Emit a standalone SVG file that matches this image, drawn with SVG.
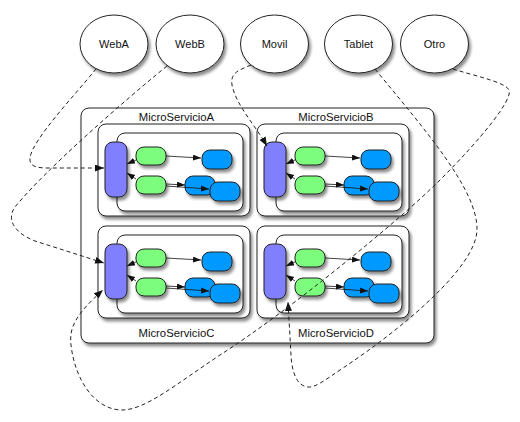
<svg xmlns="http://www.w3.org/2000/svg" width="520" height="422" viewBox="0 0 520 422">
<defs>
<filter id="sh" x="-20%" y="-20%" width="150%" height="150%">
<feDropShadow dx="2" dy="3" stdDeviation="1.6" flood-color="#000" flood-opacity="0.45"/>
</filter>
<marker id="ah" markerUnits="userSpaceOnUse" markerWidth="10" markerHeight="8" refX="9" refY="3.5" orient="auto">
<path d="M0,0 L9,3.5 L0,7 z" fill="#111"/>
</marker>
<marker id="as" markerUnits="userSpaceOnUse" markerWidth="9" markerHeight="7" refX="8" refY="3" orient="auto">
<path d="M0,0 L8,3 L0,6 z" fill="#111"/>
</marker>
</defs>
<style>
.client{fill:#fff;stroke:#222;stroke-width:1;filter:url(#sh)}
.box{fill:#fff;stroke:#222;stroke-width:1;filter:url(#sh)}
.p{fill:#8080ff;stroke:#222;stroke-width:1;filter:url(#sh)}
.g{fill:#7dfd7d;stroke:#222;stroke-width:1;filter:url(#sh)}
.b{fill:#0099ff;stroke:#222;stroke-width:1;filter:url(#sh)}
.t{font-family:"Liberation Sans",Arial,sans-serif;font-size:11px;fill:#111;text-anchor:middle}
.lbl{font-family:"Liberation Sans",Arial,sans-serif;font-size:11.3px;fill:#111;text-anchor:middle}
.ia{fill:none;stroke:#111;stroke-width:0.8;marker-end:url(#as)}
.dc{fill:none;stroke:#222;stroke-width:1;stroke-dasharray:4,3;marker-end:url(#ah)}
</style>

<g id="clients">
<g id="WebA"><ellipse class="client" cx="114" cy="44" rx="34" ry="29"/><text class="t" x="114" y="48">WebA</text></g>
<g id="WebB"><ellipse class="client" cx="190" cy="44" rx="34" ry="29"/><text class="t" x="190" y="48">WebB</text></g>
<g id="Movil"><ellipse class="client" cx="274.5" cy="44" rx="34" ry="29"/><text class="t" x="274.5" y="48">Movil</text></g>
<g id="Tablet"><ellipse class="client" cx="358.5" cy="44" rx="34" ry="29"/><text class="t" x="358.5" y="48">Tablet</text></g>
<g id="Otro"><ellipse class="client" cx="434.5" cy="44" rx="34" ry="29"/><text class="t" x="434.5" y="48">Otro</text></g>
</g>

<g id="container">
<rect class="box" x="81" y="108" width="353" height="235" rx="8"/>
</g>

<g id="MicroServicioA">
<text class="lbl" x="176.5" y="120.5">MicroServicioA</text>
<rect class="box" x="98" y="124" width="152" height="92" rx="8"/>
<rect class="box" x="117" y="133" width="126" height="78" rx="8"/>
<rect class="p" x="105" y="142" width="22" height="55" rx="8"/>
<rect class="g" x="136" y="147" width="30" height="18" rx="8"/>
<rect class="g" x="136" y="176" width="30" height="18" rx="8"/>
<rect class="b" x="202" y="150" width="30" height="19" rx="8"/>
<rect class="b" x="185" y="176" width="30" height="19" rx="8"/>
<path class="ia" d="M166,186 L209,189"/>
<rect class="b" x="210" y="182" width="30" height="19" rx="8"/>
<path class="ia" d="M166,156 L201,158"/>
<path class="ia" d="M166,184 L185,185"/>
<path class="ia" d="M136,160 L127,164"/>
<path class="ia" d="M136,179 L127,173"/>
</g>

<g id="MicroServicioB" transform="translate(159,0)">
<text class="lbl" x="177" y="120.5">MicroServicioB</text>
<rect class="box" x="98" y="124" width="152" height="92" rx="8"/>
<rect class="box" x="117" y="133" width="126" height="78" rx="8"/>
<rect class="p" x="105" y="142" width="22" height="55" rx="8"/>
<rect class="g" x="136" y="147" width="30" height="18" rx="8"/>
<rect class="g" x="136" y="176" width="30" height="18" rx="8"/>
<rect class="b" x="202" y="150" width="30" height="19" rx="8"/>
<rect class="b" x="185" y="176" width="30" height="19" rx="8"/>
<path class="ia" d="M166,186 L209,189"/>
<rect class="b" x="210" y="182" width="30" height="19" rx="8"/>
<path class="ia" d="M166,156 L201,158"/>
<path class="ia" d="M166,184 L185,185"/>
<path class="ia" d="M136,160 L127,164"/>
<path class="ia" d="M136,179 L127,173"/>
</g>

<g id="MicroServicioC" transform="translate(0,102)">
<text class="lbl" x="176.5" y="234.5">MicroServicioC</text>
<rect class="box" x="98" y="124" width="152" height="92" rx="8"/>
<rect class="box" x="117" y="133" width="126" height="78" rx="8"/>
<rect class="p" x="105" y="142" width="22" height="55" rx="8"/>
<rect class="g" x="136" y="147" width="30" height="18" rx="8"/>
<rect class="g" x="136" y="176" width="30" height="18" rx="8"/>
<rect class="b" x="202" y="150" width="30" height="19" rx="8"/>
<rect class="b" x="185" y="176" width="30" height="19" rx="8"/>
<path class="ia" d="M166,186 L209,189"/>
<rect class="b" x="210" y="182" width="30" height="19" rx="8"/>
<path class="ia" d="M166,156 L201,158"/>
<path class="ia" d="M166,184 L185,185"/>
<path class="ia" d="M136,160 L127,164"/>
<path class="ia" d="M136,179 L127,173"/>
</g>

<g id="MicroServicioD" transform="translate(159,102)">
<text class="lbl" x="177" y="234.5">MicroServicioD</text>
<rect class="box" x="98" y="124" width="152" height="92" rx="8"/>
<rect class="box" x="117" y="133" width="126" height="78" rx="8"/>
<rect class="p" x="105" y="142" width="22" height="55" rx="8"/>
<rect class="g" x="136" y="147" width="30" height="18" rx="8"/>
<rect class="g" x="136" y="176" width="30" height="18" rx="8"/>
<rect class="b" x="202" y="150" width="30" height="19" rx="8"/>
<rect class="b" x="185" y="176" width="30" height="19" rx="8"/>
<path class="ia" d="M166,186 L209,189"/>
<rect class="b" x="210" y="182" width="30" height="19" rx="8"/>
<path class="ia" d="M166,156 L201,158"/>
<path class="ia" d="M166,184 L185,185"/>
<path class="ia" d="M136,160 L127,164"/>
<path class="ia" d="M136,179 L127,173"/>
</g>

<g id="connectors">
<path id="c-WebA" class="dc" d="M96,69 C75,95 32,140 30,158 C29,167 38,168 48,168 L104,168"/>
<path id="c-WebB" class="dc" d="M167,66 C125,100 45,170 15,207 C7,218 12,232 35,241 L104,263"/>
<path id="c-Movil" class="dc" d="M251,65 C240,70 230,72 232,85 C236,105 255,125 267,146"/>
<path id="c-Tablet" class="dc" d="M375,69 C425,130 478,190 477,230 C476,268 400,330 343,368 C325,380 315,388 308,387 C298,386 292,375 291,355 L288,302"/>
<path id="c-Otro" class="dc" d="M453,69 C475,76 505,82 509,90 C513,100 480,140 440,180 C400,220 290,310 220,355 C175,385 145,410 122,410 C95,410 75,380 71,345 C69,328 75,315 103,290"/>
</g>
</svg>
